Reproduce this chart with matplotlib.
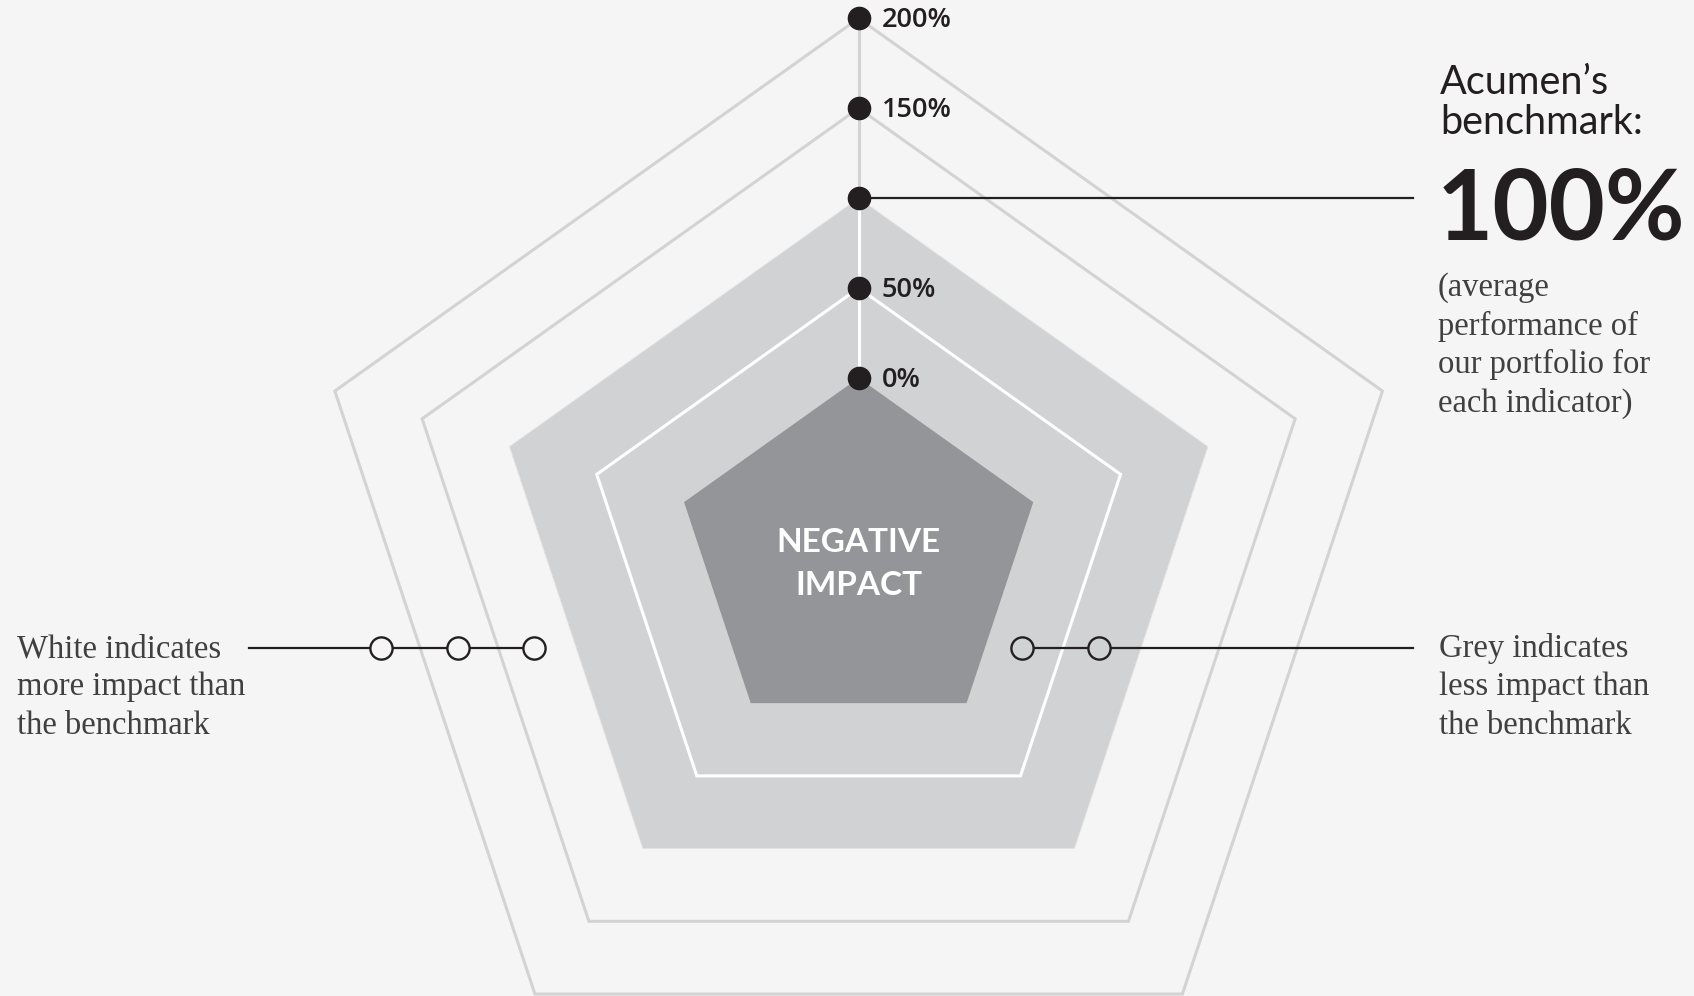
import numpy as np
import matplotlib.pyplot as plt
from matplotlib.patches import Polygon

# radar scale: 5 indicators, rings every 50 %, benchmark at 100 %
N_INDICATORS = 5
RING_LEVELS = [0, 50, 100, 150, 200]
TICK_LEVELS = [200, 150, 50, 0]
TICK_LABELS = ["200%", "150%", "50%", "0%"]
BENCHMARK = 100
CORE = 100  # radius of the 0 % ring, in % units

# legend call-outs (horizontal positions in radius units)
LEGEND_Y = -50
WHITE_MARKERS = [-260, -218, -177]
GREY_MARKERS = [89, 131]
LEADER_LEFT = -332
LEADER_RIGHT = 302

BG = "#f5f5f5"
LIGHT = "#d1d2d4"
DARK_FILL = "#939598"
RING = "#d3d3d3"
INK = "#231f20"
SERIF_INK = "#404040"

W, H = 1694, 996


def ring(level):
    r = level + CORE
    ang = np.deg2rad(90 + 360 / N_INDICATORS * np.arange(N_INDICATORS))
    return np.column_stack([r * np.cos(ang), r * np.sin(ang)])


def fx(px):
    return px / W


def fy(py):
    return 1 - py / H


fig = plt.figure(figsize=(W / 100, H / 100), dpi=100, facecolor=BG)
ax = fig.add_axes([0, 0, 1, 1])
ax.set_facecolor(BG)
ax.set_xlim(-467.7, 455.0)
ax.set_ylim(-243.8, 310.2)
ax.axis("off")

# filled zones
ax.add_patch(Polygon(ring(BENCHMARK), closed=True, facecolor=LIGHT,
                     edgecolor="#e4e4e4", linewidth=0.6, zorder=1))
ax.add_patch(Polygon(ring(0), closed=True, facecolor=DARK_FILL,
                     edgecolor="none", zorder=2))

# ring outlines
for lvl in RING_LEVELS:
    if lvl in (0, BENCHMARK):
        continue
    col = "white" if lvl < BENCHMARK else RING
    ax.add_patch(Polygon(ring(lvl), closed=True, fill=False,
                         edgecolor=col, linewidth=2.2, joinstyle="miter", zorder=3))

# vertical axis
ax.plot([0, 0], [CORE, BENCHMARK + CORE], color="white", lw=2.2, zorder=3)
ax.plot([0, 0], [BENCHMARK + CORE, RING_LEVELS[-1] + CORE], color=RING,
        lw=2.2, zorder=3)

# benchmark leader
ax.plot([0, LEADER_RIGHT], [BENCHMARK + CORE] * 2, color=INK, lw=1.6, zorder=4)

# level dots + labels
ax.plot([0] * len(RING_LEVELS), [l + CORE for l in RING_LEVELS], "o",
        color=INK, markersize=16, zorder=5)
for lvl, lab in zip(TICK_LEVELS, TICK_LABELS):
    ax.annotate(lab, (0, lvl + CORE), xytext=(16.5, -1.5), textcoords="offset points",
                va="center", ha="left", fontsize=19.5, fontweight="semibold",
                family="Open Sans", color=INK, zorder=6)

# legend call-outs
ax.plot([LEADER_LEFT, WHITE_MARKERS[-1]], [LEGEND_Y] * 2, color=INK, lw=1.6, zorder=4)
ax.plot(WHITE_MARKERS, [LEGEND_Y] * len(WHITE_MARKERS), "o", markersize=16,
        markerfacecolor=BG, markeredgecolor=INK, markeredgewidth=1.7, zorder=5)
ax.plot([GREY_MARKERS[0], LEADER_RIGHT], [LEGEND_Y] * 2, color=INK, lw=1.6, zorder=4)
ax.plot(GREY_MARKERS, [LEGEND_Y] * len(GREY_MARKERS), "o", markersize=16,
        markerfacecolor=LIGHT, markeredgecolor=INK, markeredgewidth=1.7, zorder=5)

# centre label
for txt, base in zip(["NEGATIVE", "IMPACT"], [552, 595]):
    fig.text(fx(858.7), fy(base), txt, ha="center", va="baseline", fontsize=24,
             fontweight="bold", family="Lato", color="white", zorder=7)

# benchmark text block
for txt, base in zip(["Acumen\u2019s", "benchmark:"], [94, 134]):
    fig.text(fx(1440), fy(base), txt, ha="left", va="baseline", fontsize=28.5,
             fontweight="normal", family="Lato", color=INK)
fig.text(fx(1437), fy(239), "100%", ha="left", va="baseline", fontsize=70,
         fontweight="bold", family="Lato", color=INK)

serif = dict(ha="left", va="baseline", fontsize=23.5, family="Liberation Serif",
             color=SERIF_INK)
note = ["(average", "performance of", "our portfolio for", "each indicator)"]
for i, txt in enumerate(note):
    fig.text(fx(1438), fy(296 + 38.5 * i), txt, **serif)

white_note = ["White indicates", "more impact than", "the benchmark"]
grey_note = ["Grey indicates", "less impact than", "the benchmark"]
for i, (a, b) in enumerate(zip(white_note, grey_note)):
    fig.text(fx(17), fy(657 + 38.4 * i), a, **serif)
    fig.text(fx(1439), fy(657 + 38.4 * i), b, **serif)

fig.savefig("out.png", dpi=100, facecolor=BG)
